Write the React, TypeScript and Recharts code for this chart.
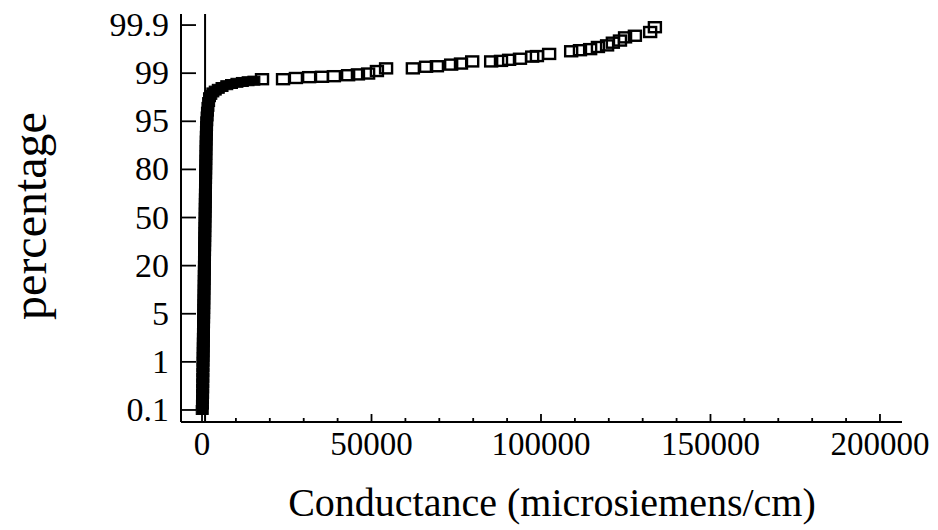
import React from 'react';
import { ScatterChart, Scatter, XAxis, YAxis, ReferenceLine, Label } from 'recharts';

const FONT = '"Liberation Serif", "Times New Roman", Times, serif';

// Probability-axis labels (percent); each one sits one unit apart on the vertical axis
const PROB_TICKS = [0.1, 1, 5, 20, 50, 80, 95, 99, 99.9];

const X_MAJOR = [0, 50000, 100000, 150000, 200000];
const X_MINOR = [
  10000, 20000, 30000, 40000, 60000, 70000, 80000, 90000,
  110000, 120000, 130000, 140000, 160000, 170000, 180000, 190000,
];

// Bulk of the samples: cumulative percentage and conductance (microsiemens/cm)
const BODY_PCT = [
  0.1, 0.2, 0.3, 0.4, 0.5, 0.6, 0.7, 0.8, 0.9,
  1, 1.4, 1.8, 2.2, 2.6, 3, 3.4, 3.8, 4.2, 4.6,
  5, 6.5, 8, 9.5, 11, 12.5, 14, 15.5, 17, 18.5,
  20, 23, 26, 29, 32, 35, 38, 41, 44, 47,
  50, 53, 56, 59, 62, 65, 68, 71, 74, 77,
  80, 81.5, 83, 84.5, 86, 87.5, 89, 90.5, 92, 93.5,
  95, 95.4, 95.8, 96.2, 96.6, 97.0, 97.2, 97.4, 97.55, 97.7,
  97.85, 98.0, 98.1, 98.2, 98.27, 98.33, 98.38,
];
const BODY_COND = [
  60, 120, 150, 180, 200, 220, 240, 260, 280,
  300, 320, 340, 360, 380, 400, 420, 440, 460, 480,
  500, 520, 540, 560, 580, 600, 620, 640, 660, 680,
  700, 720, 740, 760, 780, 800, 820, 840, 860, 880,
  900, 920, 940, 960, 980, 1000, 1020, 1040, 1060, 1080,
  1100, 1120, 1140, 1160, 1180, 1200, 1230, 1260, 1300, 1350,
  1400, 1500, 1600, 1750, 1950, 2200, 2600, 3200, 3900, 4800,
  5900, 7300, 8700, 10300, 11900, 13600, 15300,
];

// Upper tail: individual high-conductance samples
const TAIL_PCT = [
  98.5, 98.5, 98.6, 98.67, 98.7, 98.75, 98.83, 98.9, 98.97, 99.04,
  99.09, 99.09, 99.12, 99.13, 99.16, 99.18, 99.22, 99.22, 99.23, 99.25,
  99.27, 99.31, 99.32, 99.36, 99.41, 99.43, 99.45, 99.49, 99.52, 99.57,
  99.61, 99.67, 99.7, 99.77, 99.86,
];
const TAIL_COND = [
  17700, 23900, 27700, 31600, 35400, 38900, 43100, 46000, 49000, 51600,
  54300, 62200, 66100, 69300, 73500, 76400, 79700, 85300, 88200, 90600,
  93800, 97400, 98800, 102400, 108900, 111500, 114500, 116800, 119500, 121200,
  123300, 124800, 127700, 132200, 133600,
];

const GUIDE_COND = 900;

const X_TITLE = 'Conductance (microsiemens/cm)';
const Y_TITLE = 'percentage';

// Map a percentage onto the equally spaced probability axis
function probPos(p: number): number {
  for (let i = 0; i < PROB_TICKS.length - 1; i++) {
    const a = PROB_TICKS[i];
    const b = PROB_TICKS[i + 1];
    if (p <= b) return i + (p - a) / (b - a);
  }
  return PROB_TICKS.length - 1;
}

const bodyRows = BODY_PCT.map((p, i) => ({ cond: BODY_COND[i], pos: probPos(p) }));
const tailRows = TAIL_PCT.map((p, i) => ({ cond: TAIL_COND[i], pos: probPos(p) }));

const X_TICKS = [...X_MAJOR, ...X_MINOR].sort((a, b) => a - b);
const Y_POS = PROB_TICKS.map((_, i) => i);

const FilledMark = (props: any) => {
  const { cx, cy } = props;
  if (cx == null || cy == null) return null;
  return (
    <rect x={cx - 6} y={cy - 4.5} width={12} height={9}
      fill="#000" stroke="#000" strokeWidth={1} />
  );
};

const OpenMark = (props: any) => {
  const { cx, cy } = props;
  if (cx == null || cy == null) return null;
  return (
    <rect x={cx - 6} y={cy - 5} width={12} height={10}
      fill="none" stroke="#000" strokeWidth={2.4} />
  );
};

const BottomTick = (props: any) => {
  const { x, y, payload } = props;
  const major = X_MAJOR.includes(payload.value);
  return (
    <g>
      <line x1={x} y1={y} x2={x} y2={y - (major ? 8 : 4)} stroke="#000" strokeWidth={1.8} />
      {major && (
        <text x={x} y={y + 33} textAnchor="middle" fontFamily={FONT} fontSize={33} fill="#000">
          {payload.value}
        </text>
      )}
    </g>
  );
};

const TopTick = (props: any) => {
  const { x, y, payload } = props;
  const major = X_MAJOR.includes(payload.value);
  return <line x1={x} y1={y} x2={x} y2={y + (major ? 8 : 5)} stroke="#000" strokeWidth={1.8} />;
};

const LeftTick = (props: any) => {
  const { x, y, payload } = props;
  return (
    <g>
      <line x1={x} y1={y} x2={x + 15} y2={y} stroke="#000" strokeWidth={1.8} />
      <text x={x - 12} y={y + 11} textAnchor="end" fontFamily={FONT} fontSize={34} fill="#000">
        {PROB_TICKS[payload.value]}
      </text>
    </g>
  );
};

const RightTick = (props: any) => {
  const { x, y } = props;
  return <line x1={x} y1={y} x2={x - 15} y2={y} stroke="#000" strokeWidth={1.8} />;
};

const X_DOMAIN: [number, number] = [-6200, 206500];
const Y_DOMAIN: [number, number] = [-0.25, 8.23];

const frame = { stroke: '#000', strokeWidth: 2 };

export default function App() {
  return (
    <div style={{ position: 'absolute', left: 0, top: 0, width: 938, height: 530, background: '#fff' }}>
      <ScatterChart width={938} height={530} margin={{ top: 14, right: 36, bottom: 0, left: 0 }}>
        <XAxis
          xAxisId={0}
          type="number"
          dataKey="cond"
          domain={X_DOMAIN}
          allowDataOverflow
          ticks={X_TICKS}
          interval={0}
          tickSize={0}
          tickMargin={0}
          tickLine={false}
          axisLine={frame}
          tick={BottomTick}
          height={108}
        >
          <Label
            value={X_TITLE}
            content={() => (
              <text x={552} y={516} textAnchor="middle" fontFamily={FONT} fontSize={40} fill="#000">
                {X_TITLE}
              </text>
            )}
          />
        </XAxis>
        <XAxis
          xAxisId="top"
          orientation="top"
          type="number"
          domain={X_DOMAIN}
          allowDataOverflow
          ticks={X_TICKS}
          interval={0}
          tickSize={0}
          tickMargin={0}
          tickLine={false}
          axisLine={frame}
          tick={TopTick}
          height={0}
        />
        <YAxis
          yAxisId={0}
          type="number"
          dataKey="pos"
          domain={Y_DOMAIN}
          allowDataOverflow
          ticks={Y_POS}
          interval={0}
          tickSize={0}
          tickMargin={0}
          tickLine={false}
          axisLine={frame}
          tick={LeftTick}
          width={181}
        >
          <Label
            value={Y_TITLE}
            content={() => (
              <text x={46} y={216} transform="rotate(-90 46 216)" textAnchor="middle"
                fontFamily={FONT} fontSize={48} fill="#000">
                {Y_TITLE}
              </text>
            )}
          />
        </YAxis>
        <YAxis
          yAxisId="right"
          orientation="right"
          type="number"
          domain={Y_DOMAIN}
          allowDataOverflow
          ticks={Y_POS}
          interval={0}
          tickSize={0}
          tickMargin={0}
          tickLine={false}
          axisLine={frame}
          tick={RightTick}
          width={0}
        />
        <ReferenceLine x={GUIDE_COND} stroke="#000" strokeWidth={2} />
        <Scatter data={bodyRows} shape={FilledMark} isAnimationActive={false} />
        <Scatter data={tailRows} shape={OpenMark} isAnimationActive={false} />
      </ScatterChart>
    </div>
  );
}
